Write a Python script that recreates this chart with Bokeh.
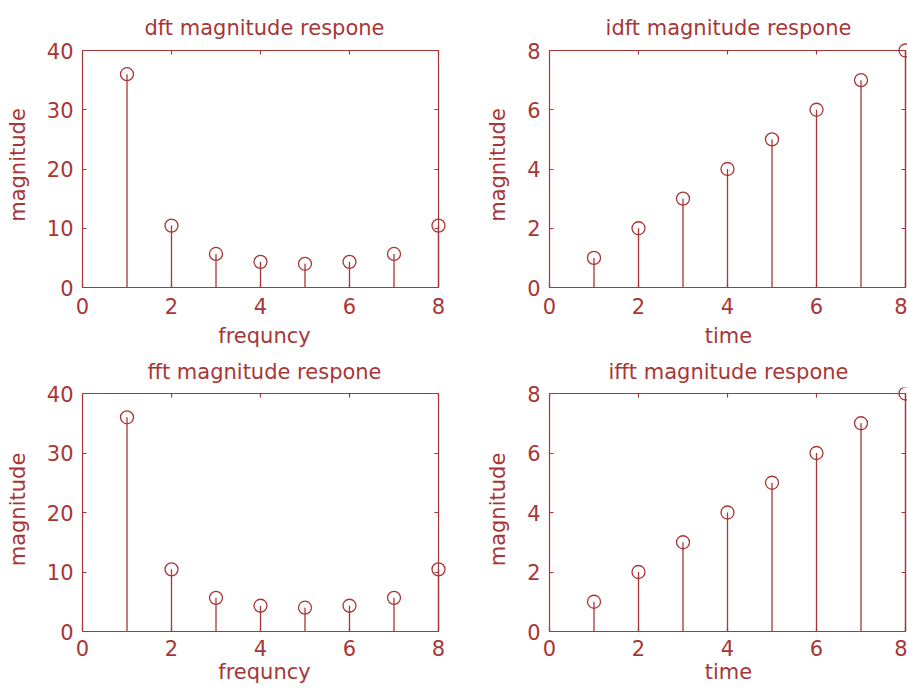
from bokeh.plotting import figure
from bokeh.layouts import column, row
from bokeh.models import LinearAxis, FixedTicker, Range1d, ColumnDataSource
from bokeh.embed import file_html
from bokeh.resources import INLINE

# ---- data ----
n = [1, 2, 3, 4, 5, 6, 7, 8]
dft_mag = [36, 10.45, 5.66, 4.33, 4.0, 4.33, 5.66, 10.45]
idft_mag = [1, 2, 3, 4, 5, 6, 7, 8]
fft_mag = [36, 10.45, 5.66, 4.33, 4.0, 4.33, 5.66, 10.45]
ifft_mag = [1, 2, 3, 4, 5, 6, 7, 8]
x_ticks = [0, 2, 4, 6, 8]
y_ticks_freq = [0, 10, 20, 30, 40]
y_ticks_time = [0, 2, 4, 6, 8]
titles = ["dft magnitude respone", "idft magnitude respone",
          "fft magnitude respone", "ifft magnitude respone"]
xlabels = ["frequncy", "time", "frequncy", "time"]
ylabel = "magnitude"

C = "#A83636"
FONT = "DejaVu Sans"
FS = "21px"


def base_style(ax):
    ax.major_tick_in = 4
    ax.major_tick_out = 0
    ax.minor_tick_in = 0
    ax.minor_tick_out = 0
    ax.axis_line_color = C
    ax.axis_line_width = 1.2
    ax.major_tick_line_color = C
    ax.major_tick_line_width = 1.2
    ax.minor_tick_line_color = C
    ax.minor_tick_line_width = 1.2
    ax.major_label_text_color = C
    ax.major_label_text_font = FONT
    ax.major_label_text_font_size = FS
    ax.axis_label_text_color = C
    ax.axis_label_text_font = FONT
    ax.axis_label_text_font_size = FS
    ax.axis_label_text_font_style = "normal"


def make(title, xlabel, xs, ys, yticks, ymax, mbl, fw, mbr, mbt, fh, mbb,
         data_w, data_h, title_standoff, tick_standoff, label_standoff):
    x_end = 8 * fw / data_w
    y_end = ymax * fh / data_h
    p = figure(frame_width=fw, frame_height=fh,
               min_border_left=mbl, min_border_right=mbr,
               min_border_top=mbt, min_border_bottom=mbb,
               x_range=Range1d(0, x_end), y_range=Range1d(0, y_end),
               output_backend="svg", toolbar_location=None, title=title)
    p.grid.visible = False
    p.outline_line_color = None
    p.background_fill_color = "white"
    p.border_fill_color = "white"
    p.title.text_font = FONT
    p.title.text_font_size = FS
    p.title.text_font_style = "normal"
    p.title.text_color = C
    p.title.align = "center"
    p.title.standoff = title_standoff

    xa = p.xaxis[0]
    base_style(xa)
    xa.ticker = FixedTicker(ticks=x_ticks)
    xa.bounds = (0, 8)
    xa.major_label_standoff = tick_standoff
    xa.axis_label = xlabel
    xa.axis_label_standoff = label_standoff

    ya = p.yaxis[0]
    base_style(ya)
    ya.ticker = FixedTicker(ticks=yticks)
    ya.bounds = (0, ymax)
    ya.major_label_standoff = 9
    ya.axis_label = ylabel
    ya.axis_label_standoff = 14

    # top and right edges of the box, with inward ticks and no labels
    top = LinearAxis(fixed_location=ymax,
                     ticker=FixedTicker(ticks=[], minor_ticks=x_ticks))
    base_style(top)
    top.bounds = (0, 8)
    top.minor_tick_in = 4
    top.major_label_standoff = 0
    p.add_layout(top, "above")

    right = LinearAxis(fixed_location=8,
                       ticker=FixedTicker(ticks=[], minor_ticks=yticks))
    base_style(right)
    right.bounds = (0, ymax)
    right.minor_tick_in = 4
    right.major_label_standoff = 0
    p.add_layout(right, "right")

    src = ColumnDataSource(dict(x=xs, y=ys, base=[0] * len(xs)))
    p.segment(x0="x", y0="base", x1="x", y1="y", source=src,
              line_color=C, line_width=1.3)
    p.scatter(x="x", y="y", source=src, marker="circle", size=13,
              fill_color=None, line_color=C, line_width=1.3)
    return p


p1 = make(titles[0], xlabels[0], n, dft_mag, y_ticks_freq, 40,
          82, 364, 14, 42, 245, 66, 356, 237, 6, 10, 7)
p2 = make(titles[1], xlabels[1], n, idft_mag, y_ticks_time, 8,
          89, 358, 0, 42, 245, 66, 356, 237, 6, 10, 7)
p3 = make(titles[2], xlabels[2], n, fft_mag, y_ticks_freq, 40,
          82, 364, 14, 33, 244, 59, 356, 238, 8, 8, 1)
p4 = make(titles[3], xlabels[3], n, ifft_mag, y_ticks_time, 8,
          89, 358, 0, 33, 244, 59, 356, 238, 8, 8, 1)

layout = column(row(p1, p2), row(p3, p4))
open("out.html", "w").write(file_html(layout, INLINE))
